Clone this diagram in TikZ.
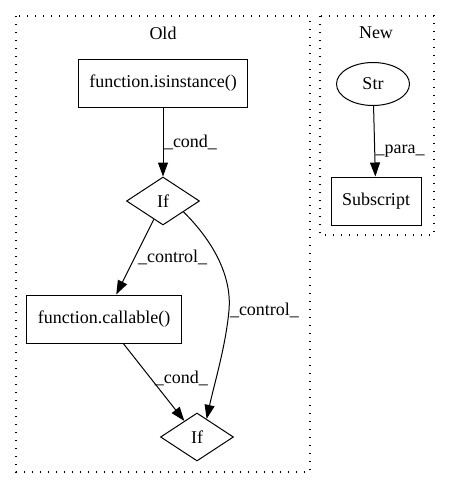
\documentclass[tikz,border=0pt]{standalone}
\usepackage{fontspec}
\setmainfont{Liberation Serif}
\usetikzlibrary{arrows.meta}
\usetikzlibrary{shapes.geometric}
\tikzset{box/.style = {draw, rectangle, line width = 1pt, inner sep = 0,
                       minimum height = 48pt}}
\tikzset{cnd/.style = {draw, diamond, line width = 1pt, inner sep = 0,
                       minimum width = 73pt, minimum height = 48pt}}
\tikzset{oval/.style = {draw, ellipse, line width = 1pt, inner sep = 0,
                        minimum width = 73pt, minimum height = 43pt}}
\tikzset{edge/.style = {line width = 1pt,
                        -{Triangle[length = 14pt, width = 10pt]}}}
\tikzset{lbl/.style = {inner sep = 0.5pt}}
\tikzset{cluster/.style = {line width = 1.3pt, dash pattern = on 1.3pt off 6.7pt}}

\begin{document}
\begin{tikzpicture}[x = 1pt, y = -1pt, font = \fontsize{18}{21}\selectfont]
      \useasboundingbox (0, 0) rectangle (448, 488);
      \draw [cluster] (16, 16) rectangle (310, 472);
      \draw [cluster] (320, 16) rectangle (434, 235);
      \node (old) at (163, 33) {Old};
      \node (new) at (376, 33) {New};
      \node [box, minimum width = 169pt] (isinst) at (163, 83) {function.isinstance()};
      \node [cnd] (ifa) at (163, 201) {If};
      \node [box, minimum width = 155pt] (callable) at (104, 319) {function.callable()};
      \node [cnd] (ifb) at (197, 437) {If};
      \node [oval] (str) at (373, 84) {Str};
      \node [box, minimum width = 90pt] (subscr) at (376, 201) {Subscript};
      \draw [edge] (isinst) -- (ifa) node [lbl, pos = 0.5, right] {\_cond\_};
      \draw [edge] (str) -- (subscr) node [lbl, pos = 0.64, right] {\_para\_};
      \draw [edge] (ifa) -- (callable) node [lbl, pos = 0.5, right = 2pt] {\_control\_};
      \draw [edge] (callable) -- (ifb) node [lbl, pos = 0.45, right = 3pt] {\_cond\_};
      \draw [edge] (ifa.-28) .. controls (212, 240) and (232, 275) .. (229, 310)
                   node [lbl, right] {\_control\_}
                   .. controls (226, 345) and (214, 385) .. (ifb.62);
    \end{tikzpicture}
\end{document}
